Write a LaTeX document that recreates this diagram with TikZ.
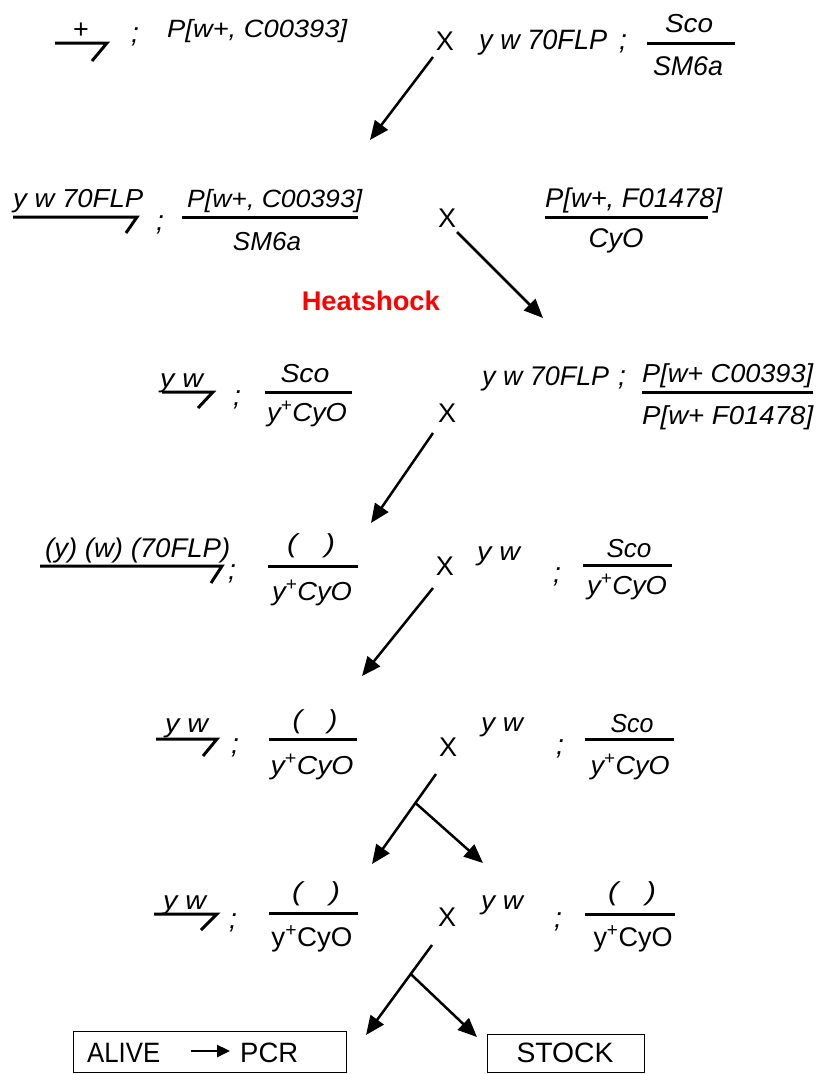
\documentclass[tikz,border=0pt]{standalone}
\usepackage{fontspec}
\setmainfont{Liberation Sans}
\usepackage{graphicx}
\usetikzlibrary{arrows.meta}
\newcommand{\tx}[3]{{\fontsize{#2}{#2}\selectfont\resizebox{#1pt}{\height}{#3}}}
\newcommand{\semi}{{\fontsize{28}{28}\selectfont;}}
\begin{document}
\begin{tikzpicture}[x=1pt,y=-1pt,
  every node/.style={inner sep=0pt},
  up/.style={font=\fontsize{27}{27}\selectfont},
  it/.style={font=\fontsize{27}{27}\selectfont\itshape},
  bar/.style={line width=3pt},
  arr/.style={line width=2.5pt,-{Triangle[length=19pt,width=16pt]}},
  box/.style={draw,line width=1pt,inner sep=0pt},
]
\useasboundingbox (0,0) rectangle (822,1074);

% Row 1
\node[up] (plus1) at (81,31) {+};
\draw[bar] (55,43) -- (107,43) -- (92,61);
\node[it] (sc1) at (135,37) {\semi};
\node[it,anchor=base west] (p1) at (167,37) {\tx{180}{25}{P[w+, C00393]}};
\node[up,anchor=base] (x1) at (445,50) {X};
\node[it,anchor=base west] (g1) at (479,49) {\tx{128}{28}{y w 70FLP}};
\node[it] (sc2) at (623,44) {\semi};
\node[it,anchor=base] (sco1) at (689,32) {\tx{48}{26}{Sco}};
\draw[bar] (647,43) -- (735,43);
\node[it,anchor=base] (sm1) at (688,75) {\tx{70}{27}{SM6a}};
\coordinate (a1s) at (433,57);
\coordinate (a1e) at (370,140);
\draw[arr] (a1s) -- (a1e);

% Row 2
\node[it,anchor=base west] (g2) at (13,207) {\tx{130}{26}{y w 70FLP}};
\draw[bar] (13,217) -- (137,217) -- (126,233);
\node[it] (sc3) at (160,225) {\semi};
\node[it,anchor=base west] (p2) at (187,207) {\tx{175}{25}{P[w+, C00393]}};
\draw[bar] (182,217) -- (358,217);
\node[it,anchor=base] (sm2) at (267,250) {\tx{68}{26}{SM6a}};
\node[up,anchor=base] (x2) at (447,227) {X};
\node[it,anchor=base west] (p3) at (545,207) {\tx{177}{27}{P[w+, F01478]}};
\draw[bar] (545,217) -- (708,217);
\node[it,anchor=base] (cy1) at (616,247) {\tx{55}{27}{CyO}};
\coordinate (a2s) at (457,232);
\coordinate (a2e) at (543,318);
\draw[arr] (a2s) -- (a2e);
\node[font=\bfseries,text=red,anchor=base east] (hs) at (440,310) {\tx{138}{27}{Heatshock}};

% Row 3
\node[it,anchor=base west] (g3) at (160,387) {\tx{43}{26}{y w}};
\draw[bar] (162,392) -- (213,392) -- (198,408);
\node[it] (sc4) at (237,400) {\semi};
\node[it,anchor=base] (sco2) at (305,382) {\tx{49}{26}{Sco}};
\draw[bar] (265,392) -- (352,392);
\node[it,anchor=base] (cy2) at (307,421) {\tx{80}{26}{y\textsuperscript{+}CyO}};
\node[up,anchor=base] (x3) at (447,422) {X};
\node[it,anchor=base west] (g4) at (482,385) {\tx{127}{27}{y w 70FLP}};
\node[it] (sc5) at (622,380) {\semi};
\node[it,anchor=base west] (p4) at (642,382) {\tx{171}{26}{P[w+ C00393]}};
\draw[bar] (642,392) -- (813,392);
\node[it,anchor=base west] (p5) at (642,424) {\tx{171}{26}{P[w+ F01478]}};
\coordinate (a3s) at (433,433);
\coordinate (a3e) at (371,523);
\draw[arr] (a3s) -- (a3e);

% Row 4
\node[it,anchor=base west] (g5) at (45,557) {\tx{185}{27}{(y) (w) (70FLP)}};
\draw[bar] (40,566) -- (222,566) -- (211,583);
\node[it] (sc6) at (232,574) {\semi};
\node[it,anchor=base] (e1) at (311,552) {\tx{48}{26}{(\hspace{0.9em})}};
\draw[bar] (268,566) -- (358,566);
\node[it,anchor=base] (cy3) at (312,600) {\tx{80}{26}{y\textsuperscript{+}CyO}};
\node[up,anchor=base] (x4) at (445,575) {X};
\node[it,anchor=base west] (g6) at (477,560) {\tx{43}{26}{y w}};
\node[it] (sc7) at (557,577) {\semi};
\node[it,anchor=base] (sco3) at (629,557) {\tx{45}{26}{Sco}};
\draw[bar] (583,565) -- (672,565);
\node[it,anchor=base] (cy4) at (627,594) {\tx{80}{26}{y\textsuperscript{+}CyO}};
\coordinate (a4s) at (433,588);
\coordinate (a4e) at (362,676);
\draw[arr] (a4s) -- (a4e);

% Row 5
\node[it,anchor=base west] (g7) at (165,732) {\tx{43}{26}{y w}};
\draw[bar] (156,739) -- (217,739) -- (203,756);
\node[it] (sc8) at (235,748) {\semi};
\node[it,anchor=base] (e2) at (315,728) {\tx{45}{26}{(\hspace{0.9em})}};
\draw[bar] (269,739) -- (357,739);
\node[it,anchor=base] (cy5) at (312,774) {\tx{83}{26}{y\textsuperscript{+}CyO}};
\node[up,anchor=base] (x5) at (448,756) {X};
\node[it,anchor=base west] (g8) at (481,731) {\tx{42}{26}{y w}};
\node[it] (sc9) at (560,749) {\semi};
\node[it,anchor=base] (sco4) at (632,732) {\tx{43}{26}{Sco}};
\draw[bar] (585,739) -- (674,739);
\node[it,anchor=base] (cy6) at (630,774) {\tx{79}{26}{y\textsuperscript{+}CyO}};
\coordinate (b1s) at (436,774);
\coordinate (b1m) at (415.5,803);
\coordinate (b1l) at (372,864);
\coordinate (b1r) at (483,863);
\draw[arr] (b1s) -- (b1l);
\draw[arr] (b1m) -- (b1r);

% Row 6
\node[it,anchor=base west] (g9) at (163,909) {\tx{43}{26}{y w}};
\draw[bar] (154,914) -- (217,914) -- (201,930);
\node[it] (sc10) at (233,923) {\semi};
\node[it,anchor=base] (e3) at (316,900) {\tx{48}{26}{(\hspace{0.9em})}};
\draw[bar] (269,913) -- (358,913);
\node[up,anchor=base] (cy7) at (312,946) {\tx{81}{27}{y\textsuperscript{+}CyO}};
\node[up,anchor=base] (x6) at (447,926) {X};
\node[it,anchor=base west] (g10) at (481,909) {\tx{42}{26}{y w}};
\node[it] (sc11) at (558,922) {\semi};
\node[it,anchor=base] (e4) at (632,900) {\tx{48}{26}{(\hspace{0.9em})}};
\draw[bar] (585,914) -- (675,914);
\node[up,anchor=base] (cy8) at (633,946) {\tx{79}{27}{y\textsuperscript{+}CyO}};
\coordinate (b2s) at (432,945);
\coordinate (b2m) at (410.7,974);
\coordinate (b2l) at (366,1035);
\coordinate (b2r) at (477,1037);
\draw[arr] (b2s) -- (b2l);
\draw[arr] (b2m) -- (b2r);

% Bottom boxes
\node[box,minimum width=273pt,minimum height=41pt] (alivebox) at (210,1052) {};
\node[box,minimum width=157pt,minimum height=38pt] (stockbox) at (566,1053.5) {};
\node[up,anchor=base west] (alv) at (87,1062) {\tx{73}{28}{ALIVE}};
\node[up,anchor=base west] (pcr) at (240,1062) {\tx{58}{28}{PCR}};
\coordinate (c1) at (191,1051);
\coordinate (c2) at (230,1051);
\draw[line width=2.5pt,-{Triangle[length=13pt,width=12pt]}] (c1) -- (c2);
\node[up,anchor=base] (stk) at (565,1062) {\tx{97}{28}{STOCK}};
\end{tikzpicture}
\end{document}
